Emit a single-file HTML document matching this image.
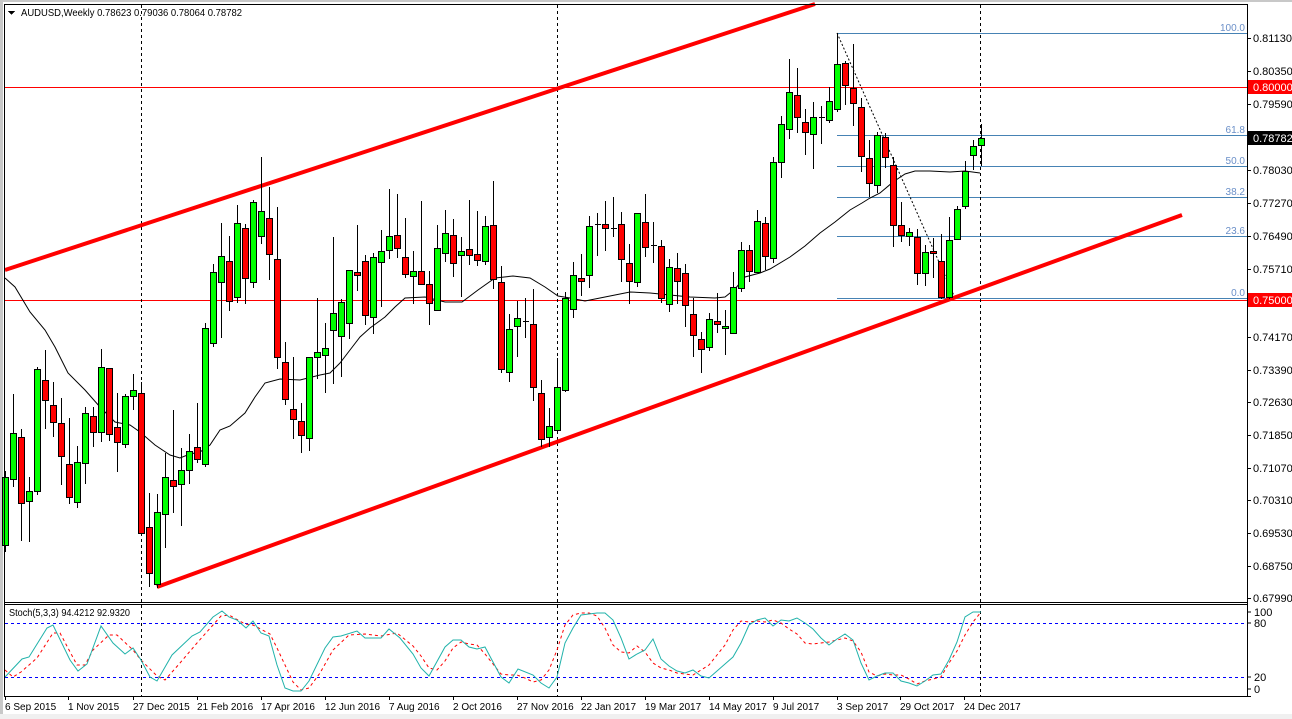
<!DOCTYPE html>
<html><head><meta charset="utf-8"><style>
html,body{margin:0;padding:0;background:#fff;}
svg{display:block;font-family:"Liberation Sans",sans-serif;}
</style></head><body>
<svg id="s" width="1292" height="719" viewBox="0 0 1292 719" xmlns="http://www.w3.org/2000/svg" shape-rendering="crispEdges">
<rect x="0" y="0" width="1292" height="719" fill="#fff"/>
<rect x="0" y="0" width="1292" height="2" fill="#c8c8c8"/>
<rect x="0" y="0" width="3" height="719" fill="#c8c8c8"/>
<rect x="0" y="714" width="1292" height="5" fill="#f0f0f0"/>
<g id="g"></g>
<line x1="5" y1="4.5" x2="1247" y2="4.5" stroke="#000"/>
<line x1="5" y1="602.5" x2="1247" y2="602.5" stroke="#000"/>
<line x1="5" y1="604.5" x2="1247" y2="604.5" stroke="#000"/>
<line x1="5" y1="696.5" x2="1251" y2="696.5" stroke="#000"/>
<line x1="4.5" y1="4" x2="4.5" y2="697" stroke="#000"/>
<line x1="1247.5" y1="4" x2="1247.5" y2="697" stroke="#000"/>
<polygon points="8,11 15,11 11.5,15" fill="#000"/>
<text x="21" y="16" font-size="10.5" fill="#000" textLength="221" lengthAdjust="spacingAndGlyphs">AUDUSD,Weekly  0.78623 0.79036 0.78064 0.78782</text>
<text x="9" y="616" font-size="10.5" fill="#000" textLength="121" lengthAdjust="spacingAndGlyphs">Stoch(5,3,3) 94.4212 92.9320</text>
<g font-size="11" fill="#000">
<text x="1254" y="616">100</text><text x="1254" y="627">80</text>
<text x="1254" y="681">20</text><text x="1254" y="693">0</text>
</g>
<g stroke="#000"><line x1="1247" y1="612" x2="1251" y2="612"/><line x1="1247" y1="623" x2="1251" y2="623"/><line x1="1247" y1="677" x2="1251" y2="677"/><line x1="1247" y1="689" x2="1251" y2="689"/></g>
</svg>
<script>
var NS="http://www.w3.org/2000/svg",g=document.getElementById('g'),S=document.getElementById('s');
function el(t,a,p){var e=document.createElementNS(NS,t);for(var k in a)e.setAttribute(k,a[k]);(p||g).appendChild(e);return e;}
var fib=[[33,'100.0'],[135,'61.8'],[166,'50.0'],[197,'38.2'],[236,'23.6'],[298,'0.0']];
fib.forEach(function(f){el('line',{x1:837,y1:f[0]+.5,x2:1247,y2:f[0]+.5,stroke:'#4682b4'});
var t=el('text',{x:1245,y:f[0]-2,'font-size':10,fill:'#6a8fc8','text-anchor':'end'});t.textContent=f[1];});
el('line',{x1:5,y1:87.5,x2:1247,y2:87.5,stroke:'#ff0000'});
el('line',{x1:5,y1:300.5,x2:1247,y2:300.5,stroke:'#ff0000'});
el('line',{x1:837,y1:33,x2:955,y2:298,stroke:'#000','stroke-dasharray':'2,2','shape-rendering':'auto'});
[141,557,980].forEach(function(x){el('line',{x1:x+.5,y1:5,x2:x+.5,y2:602,stroke:'#000','stroke-dasharray':'3,3'});
el('line',{x1:x+.5,y1:605,x2:x+.5,y2:696,stroke:'#000','stroke-dasharray':'3,3'});});
el('line',{x1:5,y1:270,x2:815,y2:4,stroke:'#ff0000','stroke-width':4,'shape-rendering':'auto'});
el('line',{x1:157,y1:587,x2:1182,y2:215,stroke:'#ff0000','stroke-width':4,'shape-rendering':'auto'});
var ma=[[5,278],[15,287],[30,312],[45,330],[55,347],[68,373],[85,390],[100,407],[115,422],[130,425],[140,432],[155,445],[170,455],[180,458],[190,454],[200,452],[210,445],[220,430],[230,426],[245,413],[255,397],[265,383],[280,379],[300,380],[320,375],[330,373],[340,363],[350,350],[360,337],[370,328],[385,317],[395,307],[405,298],[425,297],[445,302],[462,302],[478,290],[495,278],[513,276],[530,278],[545,287],[558,296],[570,298],[585,301],[600,298],[615,295],[630,292],[650,293],[670,295],[690,297],[715,298],[725,297],[735,289],[745,277],[760,273],[770,269],[790,257],[805,246],[820,233],[835,222],[850,210],[862,203],[870,198],[880,193],[893,182],[905,174],[915,171],[930,171],[950,172],[965,171],[980,173]];
el('polyline',{points:ma.map(function(p){return p.join(',')}).join(' '),fill:'none',stroke:'#000','stroke-width':1,'shape-rendering':'auto'});
var C=[[5,'g',477,545,471,552],[13,'g',433,479,394,487],[21,'r',437,503,429,541],[29,'g',491,501,477,542],[37,'g',369,491,367,495],[45,'r',380,400,350,429],[53,'r',405,422,382,437],[61,'r',423,456,398,485],[69,'r',464,497,418,504],[77,'g',462,502,446,508],[85,'g',413,463,407,484],[93,'r',416,432,407,447],[101,'g',367,432,349,442],[109,'r',368,434,368,441],[117,'r',427,442,393,472],[125,'g',396,444,394,448],[133,'g',390,396,374,410],[141,'r',393,533,382,535],[149,'r',527,573,493,587],[157,'g',512,584,494,588],[165,'g',477,514,453,548],[173,'r',480,486,410,513],[181,'g',470,484,448,526],[189,'g',451,470,434,484],[197,'r',447,459,403,463],[205,'g',328,464,323,467],[213,'g',272,343,264,347],[221,'g',256,282,223,338],[229,'r',261,301,236,311],[237,'g',223,297,205,303],[245,'r',228,278,224,304],[253,'g',202,282,200,288],[261,'g',211,236,157,244],[269,'r',218,254,187,280],[277,'r',259,357,207,369],[285,'r',362,399,342,405],[293,'r',409,419,357,439],[301,'r',421,435,403,453],[309,'g',357,438,357,451],[317,'g',352,357,298,379],[325,'g',348,355,323,393],[333,'g',313,330,237,384],[341,'g',302,336,299,377],[349,'g',270,323,270,339],[357,'r',272,275,225,291],[365,'r',261,315,255,325],[373,'g',257,317,253,334],[381,'g',251,262,230,307],[389,'g',236,250,189,259],[397,'r',235,248,194,258],[405,'r',257,274,218,278],[413,'g',271,276,251,304],[421,'r',271,284,201,284],[429,'r',284,303,271,325],[437,'g',248,310,225,310],[445,'g',233,253,210,262],[453,'r',235,263,219,277],[461,'g',251,255,237,297],[469,'r',249,255,200,265],[477,'r',254,260,211,266],[485,'g',226,261,216,265],[493,'r',225,279,181,289],[501,'r',282,369,266,373],[509,'g',329,372,314,382],[517,'g',318,326,301,357],[525,'d',321,321,298,338],[533,'r',324,387,289,401],[541,'r',393,439,380,447],[549,'g',426,437,408,447],[557,'g',387,430,358,433],[565,'g',298,390,292,392],[573,'g',275,309,262,318],[581,'r',278,281,254,296],[589,'g',226,275,216,288],[597,'d',224,224,213,256],[605,'r',224,228,201,251],[613,'d',228,228,197,237],[621,'r',224,259,212,282],[629,'r',263,281,244,304],[637,'g',213,282,213,287],[645,'r',222,247,194,257],[653,'d',245,245,222,263],[661,'r',246,298,240,303],[669,'g',267,304,259,312],[677,'r',268,281,253,304],[685,'r',273,305,264,327],[693,'r',314,335,298,357],[701,'r',339,349,332,373],[709,'g',319,347,313,351],[717,'r',321,324,293,333],[725,'g',326,328,310,355],[733,'g',287,333,272,333],[741,'g',250,288,242,292],[749,'r',250,271,245,282],[757,'g',221,272,210,272],[765,'r',223,256,217,270],[773,'g',162,258,157,263],[781,'g',124,162,116,178],[789,'g',92,129,59,139],[797,'r',95,117,68,133],[805,'r',122,132,109,155],[813,'g',117,134,102,169],[821,'d',117,117,106,144],[829,'g',101,120,87,123],[837,'g',64,109,33,112],[845,'r',63,85,61,105],[853,'r',88,103,44,126],[861,'r',107,156,98,172],[869,'r',158,183,140,197],[877,'g',135,185,132,193],[885,'r',137,157,133,168],[893,'r',165,225,157,247],[901,'r',225,235,202,242],[909,'g',232,236,228,246],[917,'r',237,273,229,285],[925,'g',252,273,245,286],[933,'r',251,253,238,278],[941,'r',261,297,234,299],[949,'g',240,297,217,299],[957,'g',209,239,206,239],[965,'g',171,206,161,209],[973,'g',146,155,140,170],[981,'g',138,145,124,166]];
C.forEach(function(c){var x=c[0];
el('line',{x1:x+.5,y1:c[4],x2:x+.5,y2:c[5],stroke:'#000'});
if(c[1]=='d'){el('line',{x1:x-2,y1:c[2]+.5,x2:x+4,y2:c[2]+.5,stroke:'#000'});}
else{var h=Math.max(c[3]-c[2],2);el('rect',{x:x-2.5,y:c[2]+.5,width:6,height:h,fill:c[1]=='g'?'#00ff00':'#ff0000',stroke:'#000'});}
});
[623,677].forEach(function(y){el('line',{x1:5,y1:y+.5,x2:1247,y2:y+.5,stroke:'#0000ff','stroke-dasharray':'3,3'});});
var K=[[5,677],[22,659],[29,657],[47,628],[53,625],[70,660],[78,671],[87,664],[101,626],[113,643],[125,654],[133,648],[141,660],[150,677],[157,681],[172,655],[192,636],[200,632],[213,617],[222,611],[229,617],[237,620],[246,628],[253,621],[261,633],[269,636],[277,665],[285,688],[293,691],[301,691],[309,681],[325,648],[333,637],[341,636],[357,631],[365,638],[381,638],[389,629],[400,638],[413,654],[421,668],[429,676],[445,647],[453,640],[461,640],[469,647],[477,649],[485,647],[501,677],[509,683],[518,669],[533,675],[541,683],[549,688],[557,677],[565,643],[573,628],[581,615],[589,614],[597,613],[605,613],[613,620],[621,638],[629,659],[637,654],[645,650],[653,639],[661,659],[669,666],[677,671],[685,673],[693,670],[701,676],[709,678],[717,671],[725,664],[733,657],[741,643],[749,625],[757,620],[765,618],[773,626],[781,620],[789,621],[797,618],[805,623],[813,629],[821,638],[829,645],[837,639],[845,634],[853,640],[861,663],[869,680],[877,676],[885,673],[893,673],[901,681],[909,683],[917,686],[925,681],[933,675],[941,674],[949,660],[957,642],[965,617],[973,612],[981,612]];
var D=[[5,670],[13,677],[21,672],[37,658],[53,633],[60,633],[77,665],[85,665],[93,650],[109,635],[117,635],[133,650],[141,660],[157,676],[165,680],[180,663],[197,643],[221,616],[229,615],[245,624],[253,625],[270,634],[277,648],[293,682],[301,690],[309,688],[320,673],[333,650],[349,635],[365,634],[381,636],[397,633],[413,646],[421,656],[429,668],[437,670],[445,661],[453,648],[461,642],[469,644],[477,645],[485,654],[493,664],[501,674],[509,675],[517,675],[525,678],[533,682],[541,680],[549,670],[557,650],[565,625],[573,615],[581,613],[589,613],[597,616],[605,628],[613,645],[621,652],[629,653],[637,646],[645,652],[653,663],[661,668],[669,670],[677,673],[685,674],[693,675],[701,670],[709,665],[717,655],[725,645],[733,630],[741,621],[749,622],[757,621],[765,622],[773,620],[781,623],[789,629],[797,634],[805,643],[813,644],[821,643],[829,642],[845,638],[853,641],[861,652],[869,672],[877,676],[885,674],[893,675],[901,675],[909,679],[917,684],[925,681],[933,679],[941,677],[949,663],[957,651],[965,635],[973,622],[981,612]];
el('polyline',{points:D.map(function(p){return p.join(',')}).join(' '),fill:'none',stroke:'#ff0000','stroke-dasharray':'3,3','shape-rendering':'auto'});
el('polyline',{points:K.map(function(p){return p.join(',')}).join(' '),fill:'none',stroke:'#20b2aa','shape-rendering':'auto'});
var P=[[38,'0.81130'],[71,'0.80350'],[104,'0.79590'],[170,'0.78030'],[203,'0.77270'],[236,'0.76490'],[269,'0.75710'],[337,'0.74170'],[370,'0.73390'],[402,'0.72630'],[435,'0.71850'],[468,'0.71070'],[500,'0.70310'],[533,'0.69530'],[566,'0.68750'],[598,'0.67990']];
P.forEach(function(p){el('line',{x1:1247,y1:p[0]+.5,x2:1251,y2:p[0]+.5,stroke:'#000'});var t=el('text',{x:1253,y:p[0]+4,'font-size':11,fill:'#000'});t.textContent=p[1];});
[[87,'0.80000','#ff0000'],[138,'0.78782','#000'],[300,'0.75000','#ff0000']].forEach(function(b){
el('rect',{x:1248,y:b[0]-7,width:44,height:14,fill:b[2]});var t=el('text',{x:1253,y:b[0]+4,'font-size':11,fill:'#fff'});t.textContent=b[1];});
var Dt=[[5,'6 Sep 2015'],[68,'1 Nov 2015'],[133,'27 Dec 2015'],[197,'21 Feb 2016'],[261,'17 Apr 2016'],[325,'12 Jun 2016'],[389,'7 Aug 2016'],[453,'2 Oct 2016'],[517,'27 Nov 2016'],[581,'22 Jan 2017'],[645,'19 Mar 2017'],[709,'14 May 2017'],[773,'9 Jul 2017'],[837,'3 Sep 2017'],[900,'29 Oct 2017'],[964,'24 Dec 2017']];
Dt.forEach(function(d){el('line',{x1:d[0]+.5,y1:696,x2:d[0]+.5,y2:700,stroke:'#000'});var t=el('text',{x:d[0],y:710,'font-size':10,fill:'#000'});t.textContent=d[1];});
</script>
</body></html>
